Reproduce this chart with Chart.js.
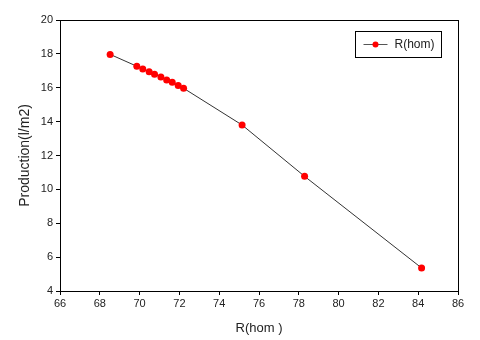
<!DOCTYPE html>
<html>
<head>
<meta charset="utf-8">
<script src="https://cdn.jsdelivr.net/npm/chart.js@4/dist/chart.umd.min.js"></script>
<style>
  html, body { margin: 0; padding: 0; background: #fff; }
  #wrap { width: 480px; height: 340px; }
</style>
</head>
<body>
<div id="wrap"><canvas id="chart" width="480" height="340"></canvas></div>
<script>
// values
const rHom = [68.52, 69.86, 70.16, 70.48, 70.75, 71.07, 71.36, 71.64, 71.94, 72.21, 75.15, 78.29, 84.17];
const production = [17.97, 17.27, 17.11, 16.95, 16.79, 16.64, 16.46, 16.32, 16.14, 15.97, 13.80, 10.77, 5.36];
const seriesName = 'R(hom)';
const xTitle = 'R(hom )';
const yTitle = 'Production(l/m2)';

const points = rHom.map((x, i) => ({ x: x, y: production[i] }));
const fontFam = '"Liberation Sans", Arial, sans-serif';

// frame round the plot area plus the boxed legend in the top right corner
const framePlugin = {
  id: 'frame',
  afterDraw(chart) {
    const ctx = chart.ctx;
    const a = chart.chartArea;
    ctx.save();
    ctx.strokeStyle = '#000';
    ctx.lineWidth = 1;
    ctx.strokeRect(a.left + 0.5, a.top + 0.5, a.right - a.left, a.bottom - a.top);

    // legend
    const bx = 355.5, by = 31.5, bw = 86, bh = 26;
    ctx.strokeRect(bx, by, bw, bh);
    const ly = by + bh / 2;
    ctx.strokeStyle = '#555';
    ctx.beginPath();
    ctx.moveTo(bx + 8, ly);
    ctx.lineTo(bx + 32, ly);
    ctx.stroke();
    ctx.fillStyle = '#ff0000';
    ctx.beginPath();
    ctx.arc(bx + 20, ly, 3, 0, Math.PI * 2);
    ctx.fill();
    ctx.fillStyle = '#222';
    ctx.font = '12px ' + fontFam;
    ctx.textBaseline = 'middle';
    ctx.fillText(chart.data.datasets[0].label, bx + 39, ly);
    ctx.restore();
  }
};

const config = {
  type: 'scatter',
  data: {
    datasets: [{
      label: seriesName,
      data: points,
      showLine: true,
      borderColor: '#333',
      borderWidth: 1,
      pointBackgroundColor: '#ff0000',
      pointBorderColor: '#ff0000',
      pointRadius: 3.5,
      pointBorderWidth: 0
    }]
  },
  options: {
    responsive: false,
    animation: false,
    layout: { padding: { left: 0, top: 20, right: 22, bottom: 0 } },
    plugins: {
      legend: { display: false },
      tooltip: { enabled: false }
    },
    scales: {
      x: {
        type: 'linear',
        min: 66, max: 86,
        afterFit: s => { s.height = 49; },
        border: { display: true, color: '#000', width: 1 },
        grid: { drawOnChartArea: false, drawTicks: true, tickLength: 4, color: '#000' },
        ticks: { stepSize: 2, color: '#222', font: { family: fontFam, size: 11 }, padding: 2 },
        title: { display: true, text: xTitle, color: '#222', font: { family: fontFam, size: 13 }, padding: { top: 0 } }
      },
      y: {
        type: 'linear',
        min: 4, max: 20,
        afterFit: s => { s.width = 60; },
        border: { display: true, color: '#000', width: 1 },
        grid: { drawOnChartArea: false, drawTicks: true, tickLength: 4, color: '#000' },
        ticks: { stepSize: 2, color: '#222', font: { family: fontFam, size: 11 }, padding: 3 },
        title: { display: true, text: yTitle, color: '#222', font: { family: fontFam, size: 14 }, padding: { top: 17, bottom: 0 } }
      }
    }
  },
  plugins: [framePlugin]
};

var ctx = document.getElementById('chart').getContext('2d');
var chart = new Chart(ctx, config);
</script>
</body>
</html>
